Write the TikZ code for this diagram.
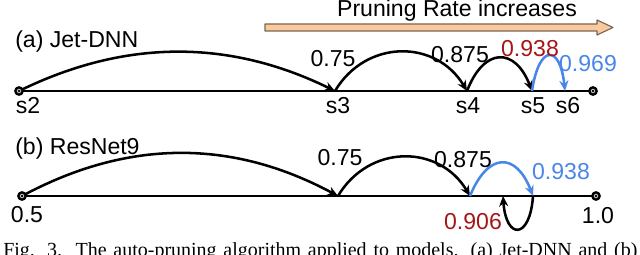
\documentclass[tikz,border=0pt]{standalone}
\usepackage{fontspec}
\setsansfont{Liberation Sans}
\newfontfamily\capfont{Liberation Serif}
\usepackage{xcolor}
\usetikzlibrary{arrows.meta}
\definecolor{hopblue}{RGB}{74,134,232}
\definecolor{hopred}{RGB}{166,22,22}
\definecolor{rateorange}{RGB}{250,202,158}
\definecolor{rateedge}{RGB}{120,100,82}

\begin{document}
\begin{tikzpicture}[x=0.025cm,y=-0.025cm,>={Stealth[length=7.5pt,width=6.5pt,inset=2.5pt]},line join=round,
    txt/.style={font={\sffamily\fontsize{16.4}{18}\selectfont},inner sep=0pt,anchor=base},
    hop/.style={->,line width=1.8pt},
    axisline/.style={line width=2pt},
    endpt/.style={draw=black,fill=gray!35,line width=1.7pt}]
    \clip (0,0) rectangle (640,255);
    % ============ Pruning rate arrow ============
    \filldraw[fill=rateorange,draw=rateedge,line width=0.8pt]
      (265,24) -- (597,24) -- (597,20) -- (613,27.5) -- (597,35) -- (597,31) -- (265,31) -- cycle;
    \node[txt] (rate) at (457,17) {Pruning Rate increases};
    % ============ (a) Jet-DNN ============
    \node[txt,anchor=base west] (titlea) at (15,48) {(a) Jet-DNN};
    \coordinate (s2) at (19,91);
    \coordinate (s3) at (335,91);
    \coordinate (s4) at (467,91);
    \coordinate (s5) at (532,91);
    \coordinate (s6) at (565,91);
    \coordinate (aend) at (593,91);
    \draw[axisline] (s2) -- (aend);
    \draw[hop] (s2) .. controls (125,39) and (229,39) .. (s3);
    \draw[hop] (s3) .. controls (366,39) and (436,39) .. (s4);
    \draw[hop] (s4) .. controls (484,47) and (515,47) .. (s5);
    \draw[hop,hopblue] (s5) .. controls (539,44) and (560,44) .. (s6);
    \node[txt] (a75) at (333,67) {0.75};
    \node[txt] (a875) at (460,63) {0.875};
    \node[txt,hopred] (a938) at (530,57) {0.938};
    \node[txt,hopblue] (a969) at (588,72) {0.969};
    \node[txt] (s2lbl) at (28,114) {s2};
    \node[txt] (s3lbl) at (338,114) {s3};
    \node[txt] (s4lbl) at (468,114) {s4};
    \node[txt] (s5lbl) at (533,114) {s5};
    \node[txt] (s6lbl) at (568,114) {s6};
    \filldraw[endpt] (s2) circle (2.6pt); \fill (s2) circle (0.9pt);
    \filldraw[endpt] (aend) circle (2.6pt); \fill (aend) circle (0.9pt);
    % ============ (b) ResNet9 ============
    \node[txt,anchor=base west] (titleb) at (15,155) {(b) ResNet9};
    \coordinate (b5) at (22,196);
    \coordinate (b75) at (338,196);
    \coordinate (b875) at (470,196);
    \coordinate (b938) at (533,196);
    \coordinate (b906) at (503,196);
    \coordinate (bend) at (596,196);
    \draw[axisline] (b5) -- (bend);
    \draw[hop] (b5) .. controls (128,139) and (232,139) .. (b75);
    \draw[hop] (b75) .. controls (369,144) and (439,144) .. (b875);
    \draw[hop,hopblue] (b875) .. controls (488,152) and (516,152) .. (b938);
    \draw[hop] (b938) .. controls (530,240) and (506,240) .. (b906);
    \node[txt] (b75lbl) at (340,166) {0.75};
    \node[txt] (b875lbl) at (463,168) {0.875};
    \node[txt,hopblue] (b938lbl) at (561,180) {0.938};
    \node[txt,hopred] (b906lbl) at (473,230) {0.906};
    \node[txt] (b5lbl) at (27,223) {0.5};
    \node[txt] (bendlbl) at (598,224) {1.0};
    \filldraw[endpt] (b5) circle (2.6pt); \fill (b5) circle (0.9pt);
    \filldraw[endpt] (bend) circle (2.6pt); \fill (bend) circle (0.9pt);
    % ============ Caption (cut off) ============
    \node[anchor=base west,inner sep=0pt] (caption) at (3,257)
      {\makebox[15.85cm][s]{\capfont\fontsize{14.2}{16}\selectfont Fig. 3.\ \ The auto-pruning algorithm applied to models. (a) Jet-DNN and (b)}};
  \end{tikzpicture}
\end{document}
